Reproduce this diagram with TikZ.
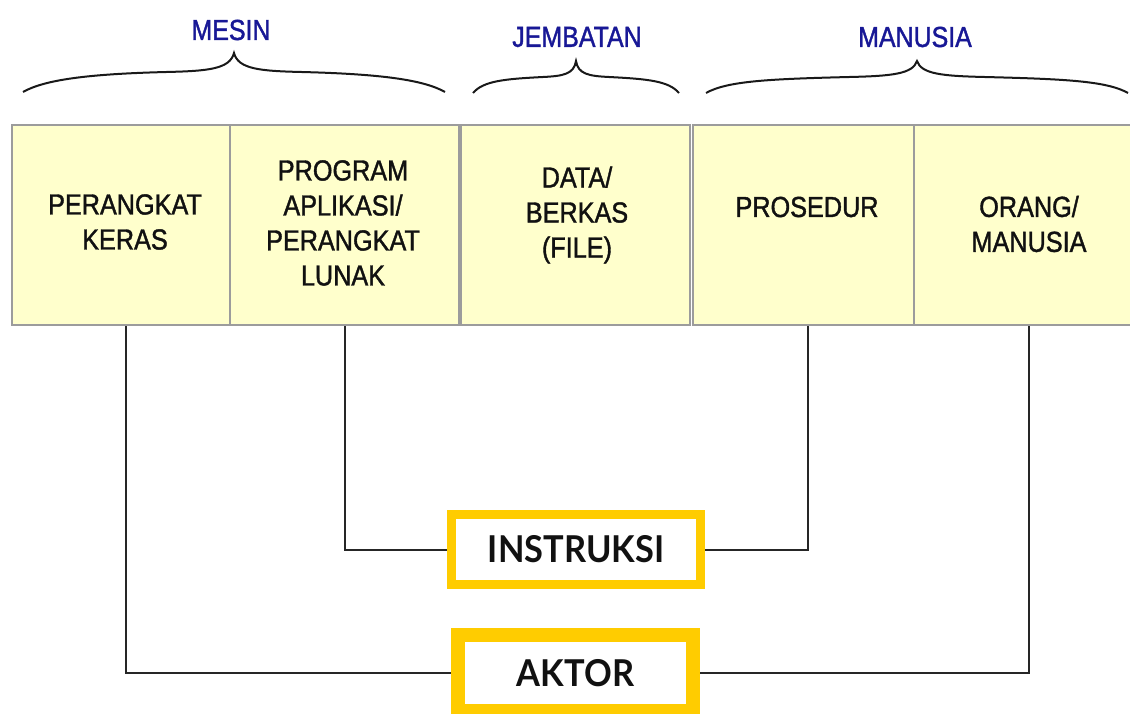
\documentclass[tikz,border=0pt]{standalone}
\usepackage{fontspec}
\setmainfont{Liberation Sans}
\newfontfamily\boxfont[FakeStretch=0.87,FakeBold=1.3]{Liberation Sans}
\newfontfamily\lblfont[FakeStretch=0.86,FakeBold=1.3]{Liberation Sans}
\newfontfamily\bigfont[FakeStretch=0.93]{Lato Bold}
\definecolor{boxfill}{HTML}{FFFFCC}
\definecolor{boxline}{HTML}{9C9C9C}
\definecolor{lblblue}{RGB}{24,24,150}
\definecolor{gold}{HTML}{FFCC00}
\definecolor{txt}{HTML}{111111}
\tikzset{
  topbox/.style={draw=boxline, line width=1.5pt, fill=boxfill, minimum height=150pt, inner sep=0pt},
  boxtext/.style={align=center, text=txt, inner sep=0pt, font=\boxfont\fontsize{21.75pt}{26.25pt}\selectfont},
  grouplbl/.style={text=lblblue, inner sep=0pt, font=\lblfont\fontsize{21.75pt}{26pt}\selectfont},
  bracepath/.style={draw=black!90, line width=1.5pt},
  goldbox/.style={draw=gold, fill=white, inner sep=0pt, text=txt, font=\bigfont\fontsize{27.75pt}{30pt}\selectfont},
  conn/.style={draw=black!85, line width=1.5pt}
}
\newcommand\drawgroupbrace[5]{% left right yend yarm ypeak
  \draw[bracepath] (#1,#3)
    .. controls ({#1+0.05*(#2-#1)},{#3-12}) and ({#1+0.15*(#2-#1)},{#4+2}) .. ({#1+0.34*(#2-#1)},#4)
    .. controls ({#1+0.44*(#2-#1)},{#4-1}) and ({#1+0.49*(#2-#1)},{#4-3}) .. ({0.5*(#1+#2)},#5)
    .. controls ({#2-0.49*(#2-#1)},{#4-3}) and ({#2-0.44*(#2-#1)},{#4-1}) .. ({#2-0.34*(#2-#1)},#4)
    .. controls ({#2-0.15*(#2-#1)},{#4+2}) and ({#2-0.05*(#2-#1)},{#3-12}) .. (#2,#3);
}
\begin{document}
\begin{tikzpicture}[x=0.75pt,y=-0.75pt]
\useasboundingbox (0,0) rectangle (1130,713);
\clip (0,0) rectangle (1130,713);
\fill[white] (0,0) rectangle (1130,713);

% group labels
\node[grouplbl] (lmesin) at (231,30) {MESIN};
\node[grouplbl] (ljemb) at (577,37) {JEMBATAN};
\node[grouplbl] (lmanus) at (915,37) {MANUSIA};

% braces
\drawgroupbrace{23}{445}{92}{72}{53}
\drawgroupbrace{473}{679}{93}{77}{61}
\drawgroupbrace{706}{1128}{93}{77}{61}

% top boxes
\node[topbox, minimum width=163.5pt] (b1) at (121,225) {};
\node[topbox, minimum width=171.75pt] (b2) at (344.5,225) {};
\node[topbox, minimum width=171.75pt] (b3) at (575.5,225) {};
\node[topbox, minimum width=165.75pt] (b4) at (803.5,225) {};
\node[topbox, minimum width=172.5pt] (b5) at (1029,225) {};

% box texts
\node[boxtext] (t1) at (125,222) {PERANGKAT\\KERAS};
\node[boxtext] (t2) at (343,223) {PROGRAM\\APLIKASI/\\PERANGKAT\\LUNAK};
\node[boxtext] (t3) at (577,215) {DATA/\\BERKAS\\(FILE)};
\node[boxtext] (t4) at (807,207) {PROSEDUR};
\node[boxtext] (t5) at (1029,224) {ORANG/\\MANUSIA};

% bottom boxes
\node[goldbox, line width=6.75pt, minimum width=186.75pt, minimum height=52.5pt] (instr) at (576,549.5) {INSTRUKSI};
\node[goldbox, line width=10.5pt, minimum width=176.25pt, minimum height=57pt] (aktor) at (575.5,673) {AKTOR};

% connectors
\draw[conn] ([xshift=3.75pt]b1.south) |- (aktor.west);
\draw[conn] (b2.south) |- (instr.west);
\draw[conn] ([xshift=3.4pt]b4.south) |- (instr.east);
\draw[conn] (b5.south) |- (aktor.east);
\end{tikzpicture}
\end{document}
